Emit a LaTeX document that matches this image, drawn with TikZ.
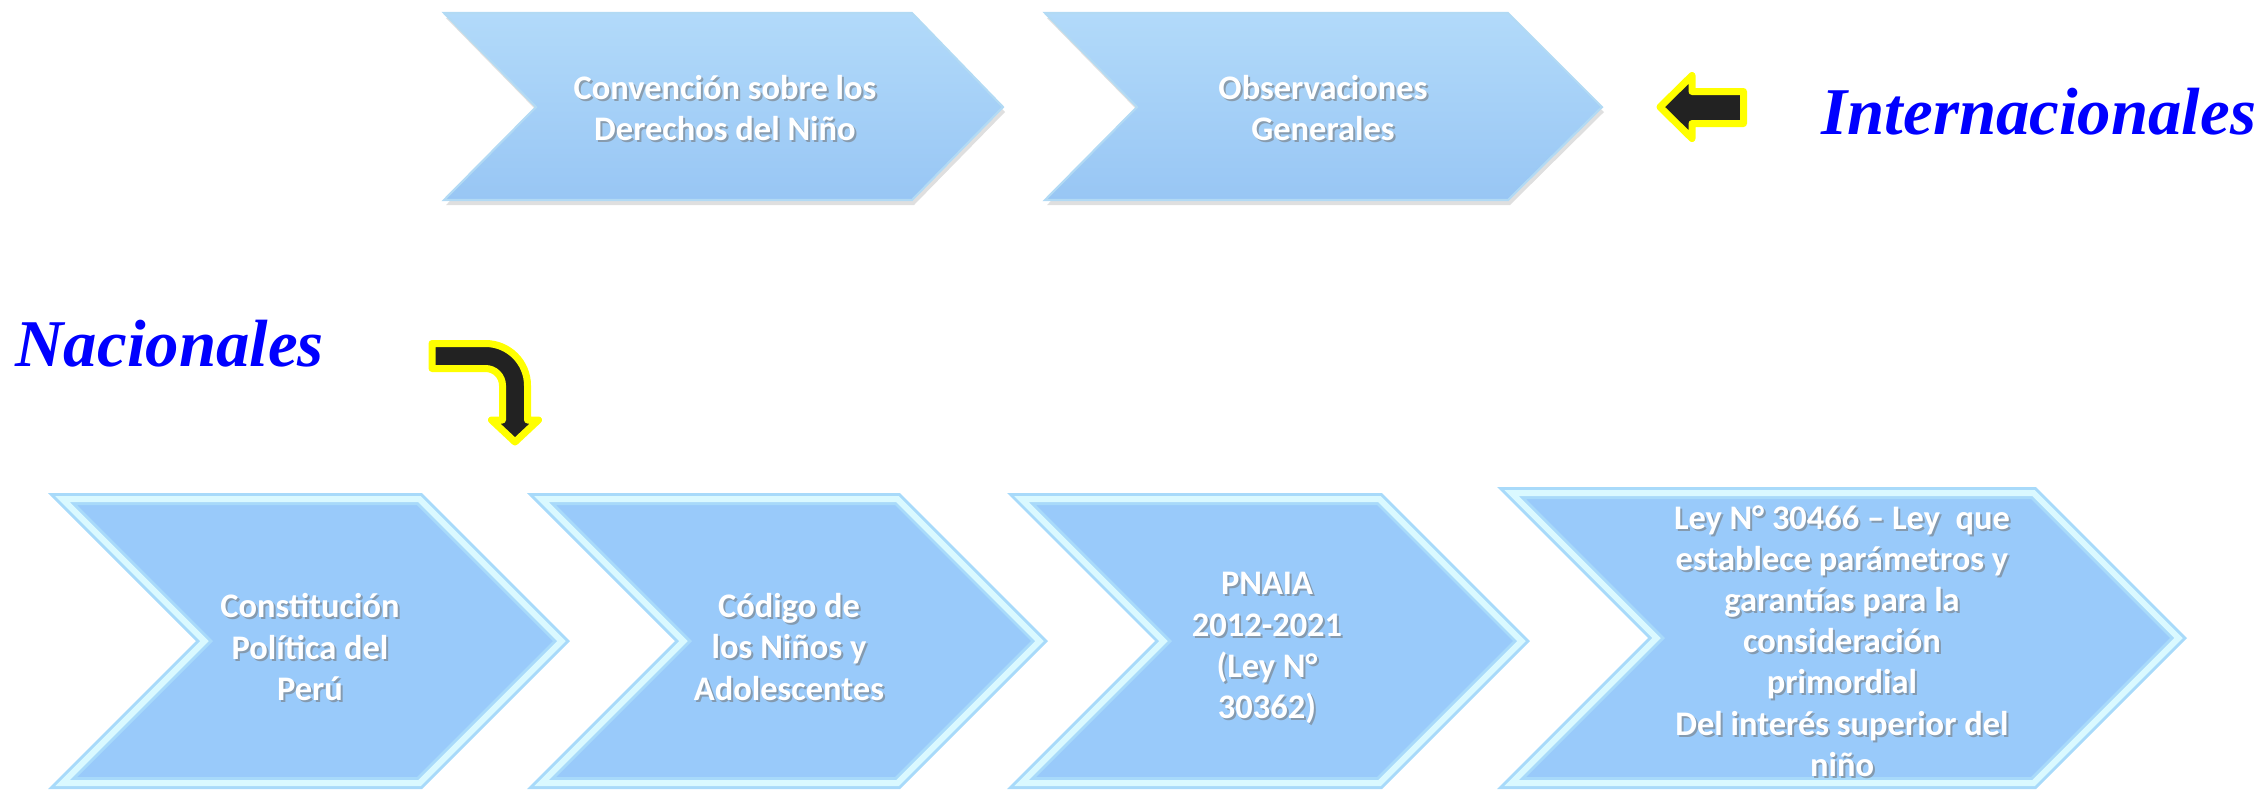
\documentclass[tikz,border=0pt]{standalone}
\usepackage{fontspec}
\usepackage{tikz}
\usetikzlibrary{shadows}

\newfontfamily\carlito{Carlito}
\newfontfamily\titleserif{Liberation Serif}

\definecolor{chevface}{RGB}{153,202,250}
\definecolor{chevbevel}{RGB}{168,218,250}
\definecolor{chevshine}{RGB}{218,249,255}
\definecolor{chevtoptop}{RGB}{178,218,250}
\definecolor{chevtopbot}{RGB}{152,198,244}
\definecolor{chevline}{RGB}{178,218,244}
\definecolor{titleblue}{RGB}{0,0,255}
\definecolor{arrowdark}{RGB}{34,34,34}
\definecolor{arrowyellow}{RGB}{255,255,0}

\tikzset{
  chevtop/.style={top color=chevtoptop, bottom color=chevtopbot, draw=chevline, line width=0.6pt,
    drop shadow={shadow xshift=0.02cm, shadow yshift=-0.05cm, opacity=0.25}},
  chevbot/.style={fill=chevface, draw=chevbevel, double=chevshine, line width=0.03cm,
    double distance=0.06cm, line join=miter},
  chevtext/.style={text=white, font=\carlito\bfseries\fontsize{9.8}{11.7}\selectfont, align=center, inner sep=0pt},
  chevshadow/.style={chevtext, text=black!55, opacity=0.55},
  titletext/.style={text=titleblue, font=\titleserif\bfseries\itshape\fontsize{19}{22}\selectfont, inner sep=0pt, anchor=base west},
  bigarrow/.style={fill=arrowdark, draw=arrowyellow, line width=0.07cm, line join=round},
}

% lower row chevron: left x, top-right x, top y, bottom y
\newcommand{\lowchev}[4]{%
  \pgfmathsetmacro{\chevhalf}{(#4-#3)/2}
  \draw[chevbot] (#1+14.5,#3+6) -- (#2-2.5,#3+6) -- (#2+\chevhalf-8.5,#3+\chevhalf)
    -- (#2-2.5,#4-6) -- (#1+14.5,#4-6) -- (#1+\chevhalf+8.5,#3+\chevhalf) -- cycle;}

% white label with a soft shadow
\newcommand{\chevlabel}[3]{%
  \node[chevshadow] at ([xshift=0.02cm,yshift=-0.02cm]#2) {#3};
  \node[chevtext] (#1) at (#2) {#3};}

\begin{document}
\begin{tikzpicture}[x=0.01cm,y=-0.01cm]
    \useasboundingbox (0,0) rectangle (2262,790);

    % upper row
    \draw[chevtop] (444,13) -- (912,13) -- (1003,107) -- (912,200) -- (444,200) -- (536,107) -- cycle;
    \draw[chevtop] (1045,13) -- (1508,13) -- (1602,107) -- (1508,200) -- (1045,200) -- (1137,107) -- cycle;
    \chevlabel{cdn}{725,108}{Convención sobre los\\Derechos del Niño}
    \chevlabel{obs}{1323,108}{Observaciones\\Generales}

    \draw[bigarrow] (1660,107) -- (1692,75.5) -- (1692,91.5) -- (1743.5,91.5)
        -- (1743.5,123.5) -- (1692,123.5) -- (1692,138.5) -- cycle;
    \node[titletext] (intl) at (1821,134) {Internacionales};

    % lower row
    \node[titletext] (nac) at (15,366) {Nacionales};
    \draw[bigarrow] (432,343.5) -- (485.5,343.5) .. controls (508.7,343.5) and (527.5,362.3) .. (527.5,385.5)
        -- (527.5,420) -- (538.5,420) -- (515,442) -- (491.5,420) -- (502.5,420) -- (502.5,385.5)
        .. controls (502.5,376.1) and (494.9,368.5) .. (485.5,368.5) -- (432,368.5) -- cycle;

    \lowchev{48}{422}{493}{789}
    \lowchev{527}{900}{493}{789}
    \lowchev{1007}{1382}{493}{789}
    \lowchev{1497}{2036}{487}{789}

    \chevlabel{cpp}{310,647}{Constitución\\Política del\\Perú}
    \chevlabel{cna}{789,647}{Código de\\los Niños y\\Adolescentes}
    \chevlabel{pnaia}{1267,648}{PNAIA\\2012-2021\\(Ley N°\\30362)}
    \chevlabel{ley}{1842,641}{Ley N° 30466 – Ley\ \ que\\establece parámetros y\\garantías para la\\consideración\\primordial\\Del interés superior del\\niño}
\end{tikzpicture}
\end{document}
